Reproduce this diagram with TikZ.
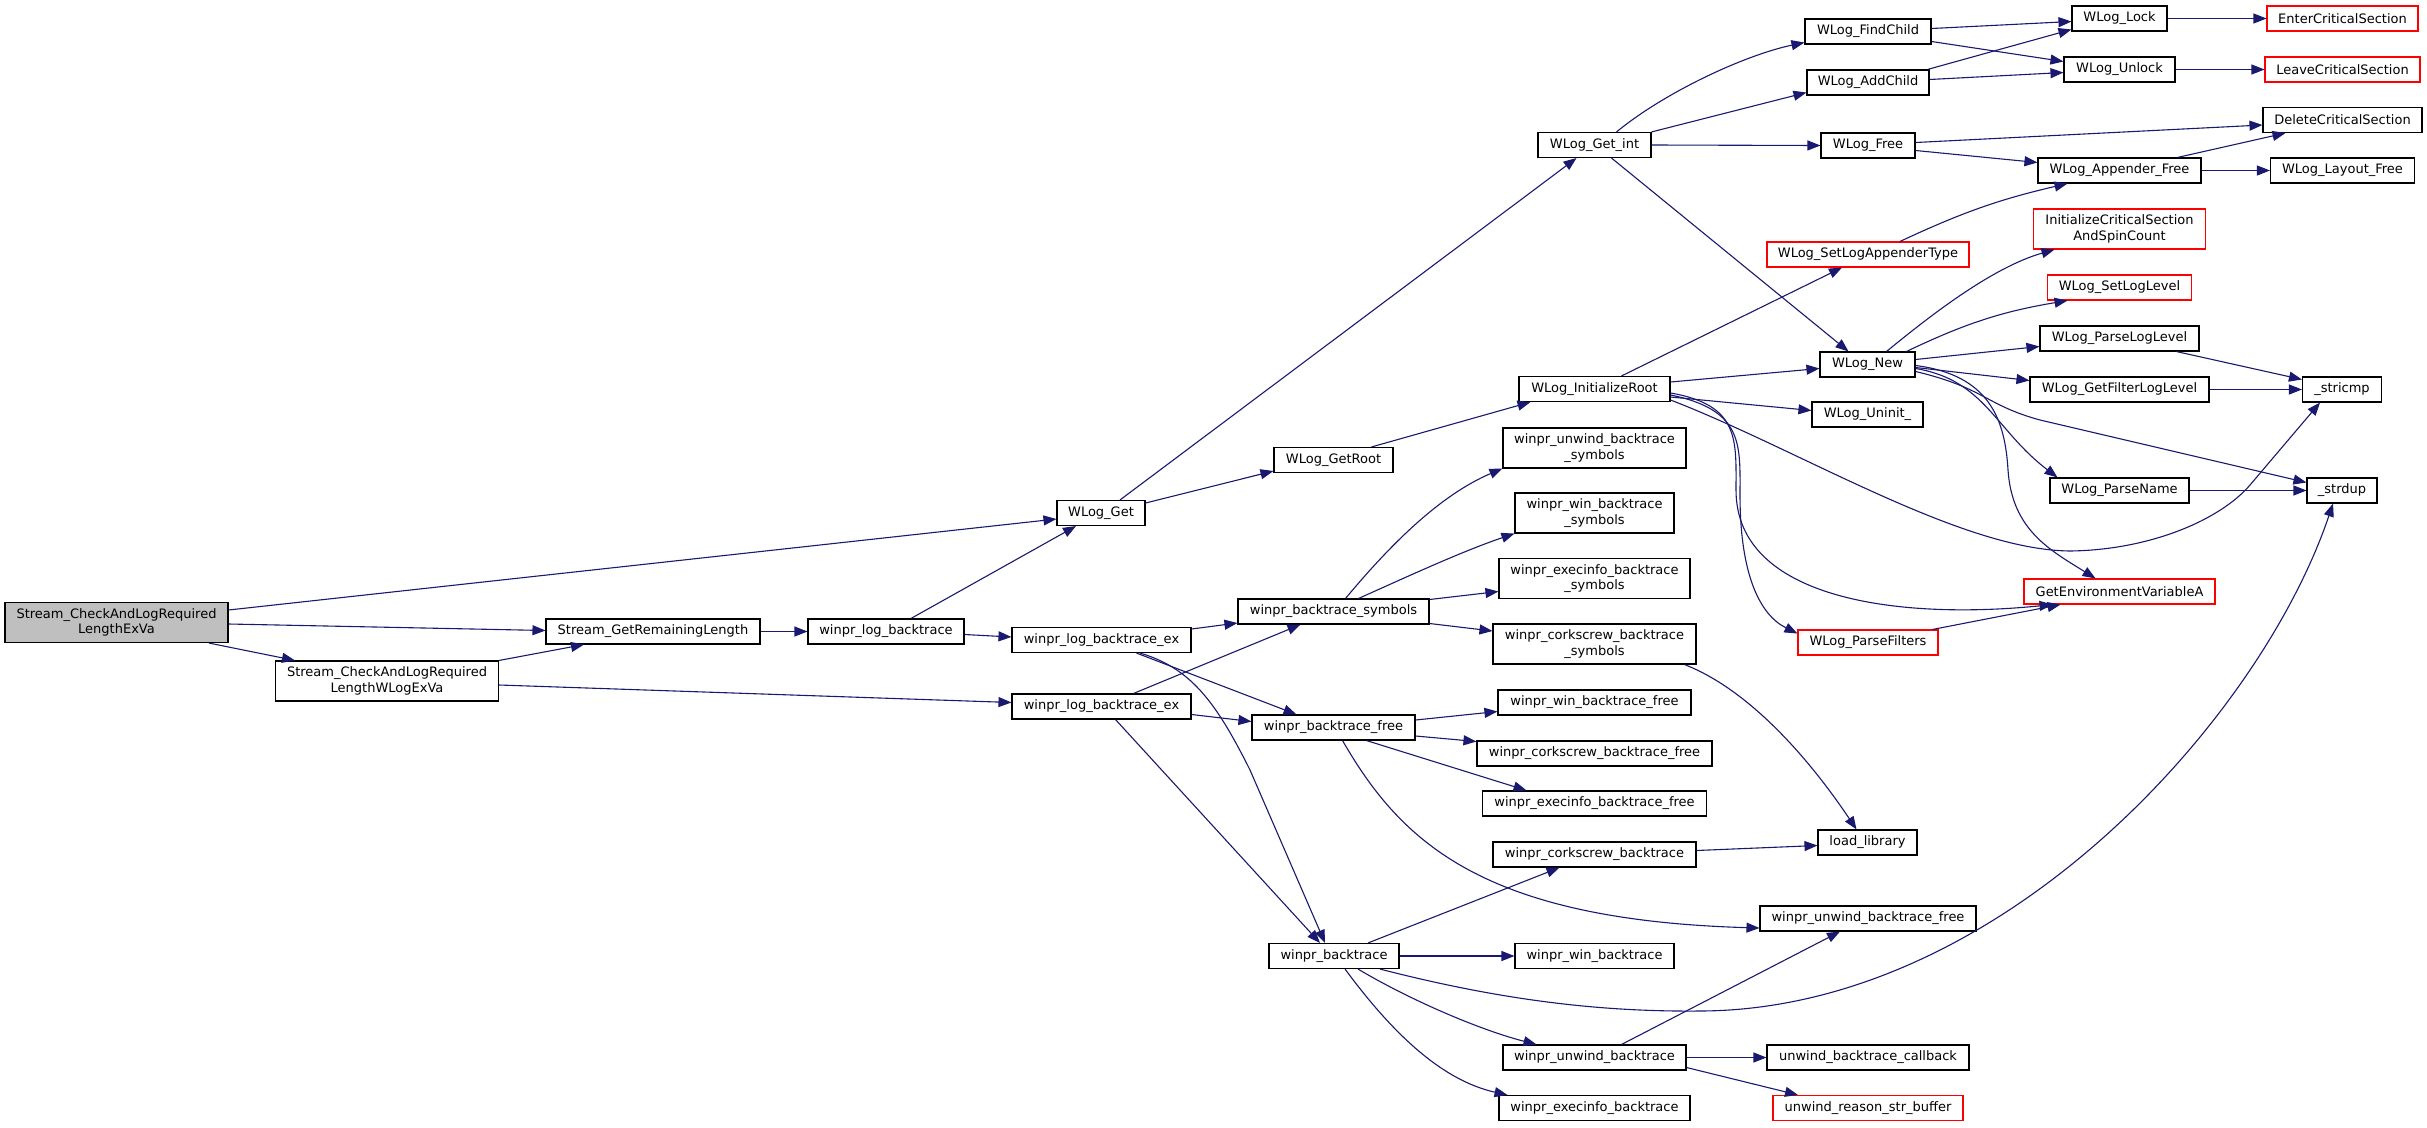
\documentclass[tikz,border=0pt]{standalone}
\usepackage{fontspec}
\setmainfont{DejaVu Sans}
\usetikzlibrary{arrows.meta,calc}
\definecolor{edgeblue}{HTML}{191970}
\definecolor{rootgray}{HTML}{BFBFBF}
\begin{document}
\begin{tikzpicture}[x=1pt,y=-1pt,
  nd/.style={draw=black, line width=1.1pt, fill=white, rectangle, inner sep=0pt, minimum height=25pt, font=\fontsize{13}{15.3}\selectfont, align=center, text=black},
  rd/.style={nd, draw=red},
  ed/.style={draw=edgeblue, line width=1.1pt, -{Triangle[length=13pt,width=10pt]}}]
\useasboundingbox (0,0) rectangle (2427,1127);
\fill[white] (0,0) rectangle (2427,1127);
% nodes
\node[nd,fill=rootgray,minimum width=223pt,minimum height=40pt] (A) at (116.5,622.5) {Stream\_CheckAndLogRequired\\LengthExVa};
\node[nd,minimum width=223pt,minimum height=40pt] (B) at (387,681) {Stream\_CheckAndLogRequired\\LengthWLogExVa};
\node[nd,minimum width=214pt] (SGRL) at (653,631.5) {Stream\_GetRemainingLength};
\node[nd,minimum width=156pt] (WLB) at (886,631.5) {winpr\_log\_backtrace};
\node[nd,minimum width=88pt] (WLG) at (1101,513) {WLog\_Get};
\node[nd,minimum width=179pt] (LB1) at (1101.5,640) {winpr\_log\_backtrace\_ex};
\node[nd,minimum width=179pt] (LB2) at (1101.5,706.5) {winpr\_log\_backtrace\_ex};
\node[nd,minimum width=113pt] (GI) at (1594.5,145) {WLog\_Get\_int};
\node[nd,minimum width=119pt] (GR) at (1333.5,460) {WLog\_GetRoot};
\node[nd,minimum width=191pt] (WBS) at (1333.5,611.5) {winpr\_backtrace\_symbols};
\node[nd,minimum width=163pt] (WBF) at (1333.5,727.5) {winpr\_backtrace\_free};
\node[nd,minimum width=130pt] (WB) at (1334,956) {winpr\_backtrace};
\node[nd,minimum width=151pt] (IR) at (1594.5,389) {WLog\_InitializeRoot};
\node[nd,minimum width=183pt,minimum height=40pt] (US) at (1594.5,448) {winpr\_unwind\_backtrace\\\_symbols};
\node[nd,minimum width=159pt,minimum height=40pt] (WS) at (1594.5,513) {winpr\_win\_backtrace\\\_symbols};
\node[nd,minimum width=191pt,minimum height=40pt] (ES) at (1594.5,578.5) {winpr\_execinfo\_backtrace\\\_symbols};
\node[nd,minimum width=203pt,minimum height=40pt] (CS) at (1594.5,644) {winpr\_corkscrew\_backtrace\\\_symbols};
\node[nd,minimum width=193pt] (WFR) at (1594.5,702.5) {winpr\_win\_backtrace\_free};
\node[nd,minimum width=235pt] (CFR) at (1594.5,753.5) {winpr\_corkscrew\_backtrace\_free};
\node[nd,minimum width=224pt] (EFR) at (1594.5,803.5) {winpr\_execinfo\_backtrace\_free};
\node[nd,minimum width=203pt] (CBT) at (1594.5,854.5) {winpr\_corkscrew\_backtrace};
\node[nd,minimum width=159pt] (WBT) at (1594.5,956) {winpr\_win\_backtrace};
\node[nd,minimum width=183pt] (UBT) at (1594.5,1057.5) {winpr\_unwind\_backtrace};
\node[nd,minimum width=191pt] (EBT) at (1594.5,1108) {winpr\_execinfo\_backtrace};
\node[rd,minimum width=202pt] (SLAT) at (1868,254.5) {WLog\_SetLogAppenderType};
\node[nd,minimum width=126pt] (FC) at (1868,31.5) {WLog\_FindChild};
\node[nd,minimum width=122pt] (AC) at (1868,82.5) {WLog\_AddChild};
\node[nd,minimum width=94pt] (WF) at (1868,145.5) {WLog\_Free};
\node[nd,minimum width=95pt] (WN) at (1867.5,364.5) {WLog\_New};
\node[nd,minimum width=111pt] (UN) at (1867.5,414.5) {WLog\_Uninit\_};
\node[rd,minimum width=140pt] (PF) at (1868,642.5) {WLog\_ParseFilters};
\node[nd,minimum width=99pt] (LL) at (1867.5,842.5) {load\_library};
\node[nd,minimum width=216pt] (UBF) at (1868,918.5) {winpr\_unwind\_backtrace\_free};
\node[nd,minimum width=202pt] (UCB) at (1868,1057.5) {unwind\_backtrace\_callback};
\node[rd,minimum width=190pt] (URS) at (1868,1108) {unwind\_reason\_str\_buffer};
\node[nd,minimum width=95pt] (LK) at (2119.5,18.5) {WLog\_Lock};
\node[nd,minimum width=111pt] (ULK) at (2119.5,69.5) {WLog\_Unlock};
\node[nd,minimum width=163pt] (AF) at (2119.5,170.5) {WLog\_Appender\_Free};
\node[rd,minimum width=172pt,minimum height=40pt] (ICS) at (2119.5,229) {InitializeCriticalSection\\AndSpinCount};
\node[rd,minimum width=144pt] (SLL) at (2119.5,287.5) {WLog\_SetLogLevel};
\node[nd,minimum width=159pt] (PLL) at (2119.5,338.5) {WLog\_ParseLogLevel};
\node[nd,minimum width=179pt] (GFL) at (2119.5,389.5) {WLog\_GetFilterLogLevel};
\node[nd,minimum width=139pt] (PN) at (2119.5,490.5) {WLog\_ParseName};
\node[rd,minimum width=191pt] (GEV) at (2119.5,591.5) {GetEnvironmentVariableA};
\node[rd,minimum width=151pt] (ECS) at (2342.5,18.5) {EnterCriticalSection};
\node[rd,minimum width=155pt] (LCS) at (2342.5,69.5) {LeaveCriticalSection};
\node[nd,minimum width=159pt] (DCS) at (2342.5,120) {DeleteCriticalSection};
\node[nd,minimum width=144pt] (LF) at (2342.5,170.5) {WLog\_Layout\_Free};
\node[nd,minimum width=79pt] (SI) at (2342,389.5) {\_stricmp};
\node[nd,minimum width=70pt] (SD) at (2342,490.5) {\_strdup};
% edges
\draw[ed] ($(A.east)+(0,-12.5)$) -- ($(WLG.west)+(0,6)$);
\draw[ed] ($(A.east)+(0,1.5)$) -- ($(SGRL.west)+(0,-1)$);
\draw[ed] ($(A.south)+(92.5,0)$) -- ($(B.north)+(-92,0)$);
\draw[ed] (B.north east) -- ($(SGRL.south)+(-69,0)$);
\draw[ed] ($(B.east)+(0,4)$) -- ($(LB2.west)+(0,-4)$);
\draw[ed] (SGRL.east) -- (WLB.west);
\draw[ed] ($(WLB.north)+(25,0)$) -- ($(WLG.south)+(-25,0)$);
\draw[ed] ($(WLB.east)+(0,3)$) -- ($(LB1.west)+(0,-3)$);
\draw[ed] ($(WLG.north)+(19,0)$) -- ($(GI.south)+(-18,0)$);
\draw[ed] ($(WLG.east)+(0,-10)$) -- ($(GR.west)+(0,11)$);
\draw[ed] ($(GR.north)+(38,0)$) -- ($(IR.south)+(-64,0)$);
\draw[ed] ($(GI.north)+(22,0)$) .. controls (1665,92) and (1745,55) .. ($(FC.west)+(0,11)$);
\draw[ed] (GI.north east) -- ($(AC.west)+(0,10)$);
\draw[ed] (GI.east) -- (WF.west);
\draw[ed] ($(GI.south)+(17,0)$) -- ($(WN.north)+(-19,0)$);
\draw[ed] ($(FC.east)+(0,-3)$) -- ($(LK.west)+(0,3)$);
\draw[ed] ($(FC.east)+(0,10)$) -- ($(ULK.west)+(0,-8)$);
\draw[ed] ($(AC.north east)+(-2,0)$) -- ($(LK.west)+(0,11)$);
\draw[ed] ($(AC.east)+(0,-3)$) -- ($(ULK.west)+(0,3)$);
\draw[ed] (LK.east) -- (ECS.west);
\draw[ed] (ULK.east) -- (LCS.west);
\draw[ed] ($(WF.east)+(0,-3)$) -- ($(DCS.west)+(0,5)$);
\draw[ed] ($(WF.east)+(0,5)$) -- ($(AF.west)+(0,-8)$);
\draw[ed] ($(AF.north)+(58,0)$) -- ($(DCS.south)+(-57,0)$);
\draw[ed] (AF.east) -- (LF.west);
\draw[ed] ($(SLAT.north)+(32,0)$) to[bend left=6] ($(AF.south)+(-52,0)$);
\draw[ed] ($(IR.north)+(27,0)$) -- ($(SLAT.south)+(-26,0)$);
\draw[ed] ($(IR.east)+(0,-7)$) -- ($(WN.west)+(0,4)$);
\draw[ed] ($(IR.east)+(0,8)$) -- ($(UN.west)+(0,-4)$);
\draw[ed] ($(IR.east)+(0,11)$) .. controls (1800,450) and (1960,550) .. (2070,551) .. controls (2150,550) and (2220,520) .. (2250,485) -- ($(SI.south)+(-22,0)$);
\draw[ed] ($(IR.east)+(0,4)$) .. controls (1740,405) and (1736,440) .. (1736,490) .. controls (1736,600) and (1900,620) .. ($(GEV.south)+(-67,0)$);
\draw[ed] ($(IR.east)+(0,6)$) .. controls (1744,410) and (1740,445) .. (1740,495) .. controls (1740,575) and (1760,615) .. ($(PF.west)+(0,-9)$);
\draw[ed] ($(WN.north)+(19,0)$) .. controls (1925,320) and (1990,268) .. ($(ICS.south)+(-65,0)$);
\draw[ed] ($(WN.north)+(39,0)$) to[bend left=8] ($(SLL.south)+(-52,0)$);
\draw[ed] ($(WN.east)+(0,-5)$) -- ($(PLL.west)+(0,8)$);
\draw[ed] ($(WN.east)+(0,3)$) -- ($(GFL.west)+(0,-9)$);
\draw[ed] ($(WN.east)+(0,7)$) .. controls (1985,388) and (1985,405) .. (2040,420) -- ($(SD.west)+(0,-8)$);
\draw[ed] ($(WN.east)+(0,4)$) .. controls (1985,380) and (1995,430) .. ($(PN.north)+(-62,0)$);
\draw[ed] ($(WN.east)+(0,1)$) .. controls (1990,375) and (2005,420) .. (2008,470) .. controls (2012,530) and (2050,550) .. ($(GEV.north)+(-24,0)$);
\draw[ed] ($(PLL.south)+(57,0)$) -- ($(SI.west)+(0,-10)$);
\draw[ed] (GFL.east) -- (SI.west);
\draw[ed] (PN.east) -- (SD.west);
\draw[ed] ($(PF.north east)+(-6,0)$) -- ($(GEV.south)+(-59,0)$);
\draw[ed] ($(LB1.east)+(0,-11)$) -- ($(WBS.west)+(0,11.5)$);
\draw[ed] ($(LB1.south)+(35,0)$) -- ($(WBF.north)+(-37,0)$);
\draw[ed] ($(LB1.south)+(38.5,0)$) .. controls (1190,668) and (1215,700) .. (1250,770) -- ($(WB.north)+(-9,0)$);
\draw[ed] ($(LB2.north)+(32,0)$) -- ($(WBS.south)+(-33,0)$);
\draw[ed] ($(LB2.east)+(0,8)$) -- ($(WBF.west)+(0,-6)$);
\draw[ed] ($(LB2.south)+(14,0)$) -- ($(WB.north)+(-14,0)$);
\draw[ed] ($(WBS.north)+(12,0)$) .. controls (1390,545) and (1440,495) .. (US.south west);
\draw[ed] ($(WBS.north)+(25,0)$) .. controls (1400,580) and (1460,552) .. (WS.south west);
\draw[ed] ($(WBS.east)+(0,-12)$) -- ($(ES.west)+(0,13)$);
\draw[ed] ($(WBS.east)+(0,12)$) -- ($(CS.west)+(0,-13)$);
\draw[ed] ($(CS.south)+(90,0)$) .. controls (1750,690) and (1810,760) .. ($(LL.north)+(-11,0)$);
\draw[ed] ($(WBF.east)+(0,-7.5)$) -- ($(WFR.west)+(0,9)$);
\draw[ed] ($(WBF.east)+(0,8.5)$) -- ($(CFR.west)+(0,-12)$);
\draw[ed] ($(WBF.south)+(33,0)$) -- ($(EFR.north)+(-68,0)$);
\draw[ed] ($(WBF.south)+(9,0)$) .. controls (1400,840) and (1480,920) .. ($(UBF.west)+(0,9.5)$);
\draw[ed] ($(WB.north)+(34,0)$) -- ($(CBT.south)+(-35,0)$);
\draw[ed] (WB.east) -- (WBT.west);
\draw[ed] ($(WB.south)+(46,0)$) .. controls (1500,1000) and (1600,1012) .. (1700,1011) .. controls (2000,1010) and (2260,720) .. ($(SD.south)+(-9,0)$);
\draw[ed] ($(WB.south)+(24,0)$) .. controls (1410,1000) and (1480,1030) .. ($(UBT.north)+(-58,0)$);
\draw[ed] ($(WB.south)+(11,0)$) .. controls (1390,1030) and (1440,1080) .. ($(EBT.north)+(-87,0)$);
\draw[ed] ($(CBT.east)+(0,-4)$) -- ($(LL.west)+(0,3)$);
\draw[ed] ($(UBT.north)+(27,0)$) -- ($(UBF.south)+(-28,0)$);
\draw[ed] (UBT.east) -- (UCB.west);
\draw[ed] ($(UBT.east)+(0,10)$) -- ($(URS.north)+(-70,0)$);
\end{tikzpicture}
\end{document}
